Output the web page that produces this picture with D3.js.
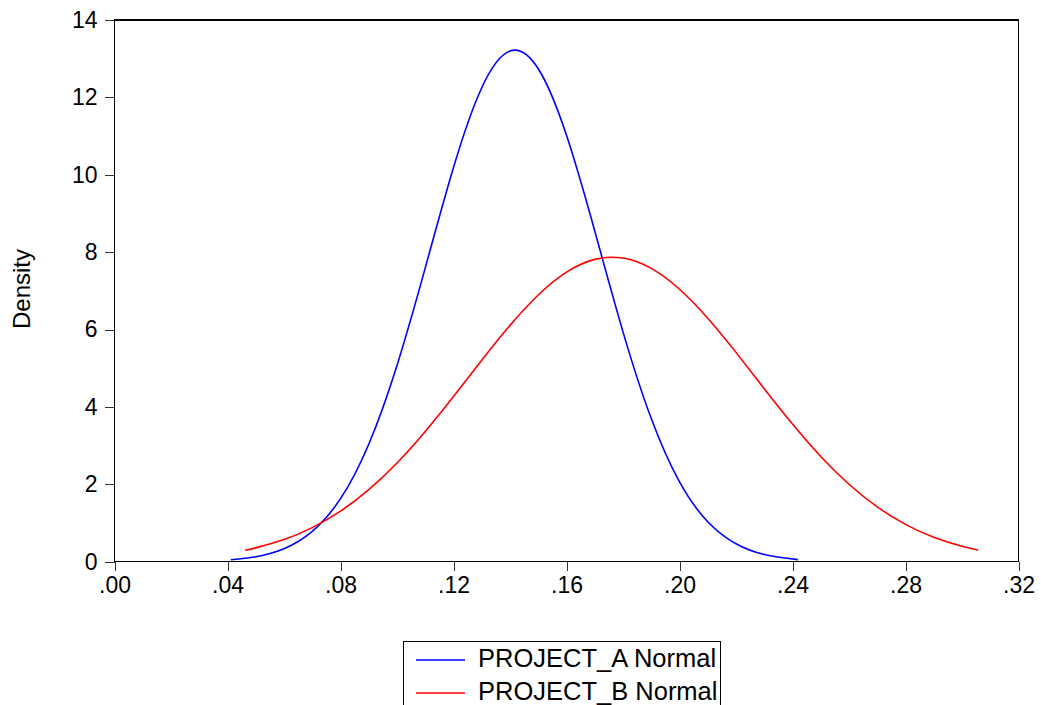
<!DOCTYPE html>
<html lang="en">
<head>
<meta charset="UTF-8">
<title>Density</title>
<script src="https://cdn.jsdelivr.net/npm/d3@7"></script>
<style>
  body { margin: 0; background: #fff; }
  text { font-family: Arial, "Liberation Sans", sans-serif; fill: #000; }
  .axis line { stroke: #333; stroke-width: 1px; shape-rendering: crispEdges; }
  .axis path { display: none; }
  .axis text { font-size: 23px; }
  .frame { fill: none; stroke: #000; stroke-width: 1.4px; shape-rendering: crispEdges; }
  .curve { fill: none; stroke-width: 1.6px; }
</style>
</head>
<body>
<div id="chart"></div>
<script>
// axis ticks
var xTicks = [0, 0.04, 0.08, 0.12, 0.16, 0.20, 0.24, 0.28, 0.32];
var xTickLabels = [".00", ".04", ".08", ".12", ".16", ".20", ".24", ".28", ".32"];
var yTicks = [0, 2, 4, 6, 8, 10, 12, 14];

// PROJECT_A (blue) density
var projAx = [0.0412, 0.05, 0.06, 0.07, 0.08, 0.09, 0.10, 0.11, 0.12, 0.13, 0.14,
              0.15, 0.16, 0.17, 0.18, 0.19, 0.20, 0.21, 0.22, 0.23, 0.2419];
var projAy = [0.052, 0.130, 0.337, 0.784, 1.629, 3.037, 5.073, 7.594, 10.19, 12.25, 13.20,
              12.74, 11.02, 8.548, 5.940, 3.699, 2.064, 1.032, 0.463, 0.186, 0.054];

// PROJECT_B (red) density
var projBx = [0.0462, 0.05, 0.06, 0.07, 0.08, 0.09, 0.10, 0.11, 0.12, 0.13, 0.14, 0.15, 0.16,
              0.17, 0.18, 0.19, 0.20, 0.21, 0.22, 0.23, 0.24, 0.25, 0.26, 0.27, 0.28,
              0.29, 0.30, 0.3057];
var projBy = [0.296, 0.357, 0.572, 0.881, 1.305, 1.861, 2.551, 3.364, 4.267, 5.205, 6.108, 6.893, 7.483,
              7.813, 7.847, 7.580, 7.042, 6.294, 5.410, 4.472, 3.556, 2.720, 2.001, 1.416, 0.964,
              0.631, 0.397, 0.300];

var seriesNames = ["PROJECT_A Normal", "PROJECT_B Normal"];
var seriesColors = ["#0000ff", "#ff0000"];

var width = 1041, height = 705;
var padL = 114.5, padR = 1018.5, padT = 20, padB = 561.7;

var svg = d3.select("#chart").append("svg")
  .attr("width", width)
  .attr("height", height);

var x = d3.scaleLinear().domain([0, 0.32]).range([padL, padR]);
var y = d3.scaleLinear().domain([0, 14]).range([padB, padT]);

// axes
var xAxis = d3.axisBottom(x)
  .tickValues(xTicks)
  .tickSize(9)
  .tickPadding(6)
  .tickFormat(function(d, i){ return xTickLabels[i]; });

var yAxis = d3.axisLeft(y)
  .tickValues(yTicks)
  .tickSize(10)
  .tickPadding(7)
  .tickFormat(function(d){ return d; });

svg.append("g").attr("class", "axis")
  .attr("transform", "translate(0," + padB + ")")
  .call(xAxis);

svg.append("g").attr("class", "axis")
  .attr("transform", "translate(" + padL + ",0)")
  .call(yAxis);

// frame
svg.append("rect").attr("class", "frame")
  .attr("x", padL).attr("y", padT)
  .attr("width", padR - padL).attr("height", padB - padT);

// y label
svg.append("text")
  .attr("transform", "translate(30,289) rotate(-90)")
  .attr("text-anchor", "middle")
  .style("font-size", "24px")
  .text("Density");

// curves
var line = d3.line()
  .x(function(d){ return x(d[0]); })
  .y(function(d){ return y(d[1]); })
  .curve(d3.curveNatural);

var series = [
  d3.zip(projAx, projAy),
  d3.zip(projBx, projBy)
];

svg.selectAll("path.curve")
  .data(series)
  .enter()
  .append("path")
  .attr("class", "curve")
  .attr("stroke", function(d, i){ return seriesColors[i]; })
  .attr("d", line);

// legend
var lg = svg.append("g");
lg.append("rect")
  .attr("x", 403.5).attr("y", 641.5)
  .attr("width", 317).attr("height", 80)
  .attr("fill", "#fff").attr("stroke", "#000").attr("stroke-width", 1);

var rows = lg.selectAll("g.row")
  .data(seriesNames)
  .enter()
  .append("g")
  .attr("transform", function(d, i){ return "translate(0," + (i * 33) + ")"; });

rows.append("line")
  .attr("x1", 416).attr("x2", 465)
  .attr("y1", 660).attr("y2", 660)
  .attr("stroke", function(d, i){ return seriesColors[i]; })
  .attr("stroke-width", 1.6);

rows.append("text")
  .attr("x", 478).attr("y", 667)
  .style("font-size", "25.5px")
  .text(function(d){ return d; });
</script>
</body>
</html>
